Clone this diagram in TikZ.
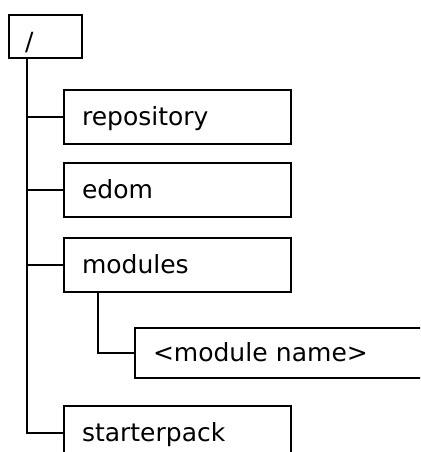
\documentclass[tikz,border=0pt]{standalone}
\usepackage{fontspec}
\setmainfont{DejaVu Sans}
\usetikzlibrary{positioning}
\begin{document}
\begin{tikzpicture}[x=1pt,y=-1pt]
	\tikzset{dir_box/.style={draw, line width=2pt, anchor=north west, minimum height=54pt, inner xsep=18pt, text width=191pt, align=left, text height=20pt, text depth=4pt, font=\fontsize{25}{30}\selectfont},
		tree_line/.style={line width=2pt}}
	\clip (0,0) rectangle (420,452);
	\node[dir_box, minimum height=43pt, inner xsep=16pt, text width=41pt, text height=29pt, text depth=0pt, inner ysep=6pt] (root) at (8,14) {/};
	\node[dir_box] (repo) at (63,89) {repository};
	\node[dir_box, below=17pt of repo] (edom) {edom};
	\node[dir_box, below=19pt of edom] (modules) {modules};
	\node[dir_box, below=112pt of modules] (starter) {starterpack};
	\node[dir_box, minimum height=50pt, text width=264pt] (modname) at (134,327) {<module name>};
	\coordinate (trunk) at ([xshift=19pt]root.south west);
	\coordinate (branch) at ([xshift=35pt]modules.south west);
	\draw[tree_line] (trunk) |- (starter.west);
	\foreach \n in {repo,edom,modules}
		\draw[tree_line] (trunk |- \n.west) -- (\n.west);
	\draw[tree_line] (branch) |- (modname.west);
\end{tikzpicture}
\end{document}
